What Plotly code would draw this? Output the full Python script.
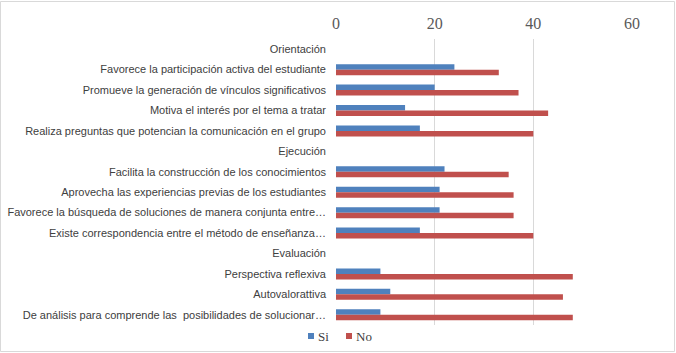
import plotly.graph_objects as go

categories = [
    "Orientación",
    "Favorece la participación activa del estudiante",
    "Promueve la generación de vínculos significativos",
    "Motiva el interés por el tema a tratar",
    "Realiza preguntas que potencian la comunicación en el grupo",
    "Ejecución",
    "Facilita la construcción de los conocimientos",
    "Aprovecha las experiencias previas de los estudiantes",
    "Favorece la búsqueda de soluciones de manera conjunta entre…",
    "Existe correspondencia entre el método de enseñanza…",
    "Evaluación",
    "Perspectiva reflexiva",
    "Autovalorattiva",
    "De análisis para comprende las  posibilidades de solucionar…",
]
si_values = [None, 24, 20, 14, 17, None, 22, 21, 21, 17, None, 9, 11, 9]
no_values = [None, 33, 37, 43, 40, None, 35, 36, 36, 40, None, 48, 46, 48]
x_ticks = [0, 20, 40, 60]
series = [("Si", si_values, "#4f81bd"), ("No", no_values, "#c0504d")]

W, H = 676, 353
ml, mr, mt, mb = 336, 44, 39, 28
pw, ph = W - ml - mr, H - mt - mb


def px(x):
    return (x - ml) / pw


def py(y):
    return (H - mb - y) / ph


fig = go.Figure()
for name, vals, col in series:
    fig.add_trace(go.Bar(name=name, y=categories, x=vals, orientation="h",
                         marker=dict(color=col, line=dict(width=0))))

shapes = [dict(type="rect", xref="paper", yref="paper",
               x0=px(0.5), x1=px(W - 1.5), y0=py(H - 1.5), y1=py(1.5),
               line=dict(color="#d9d9d9", width=1), layer="below")]
annotations = []
legend_x = [308, 346]
for (name, _, col), lx in zip(series, legend_x):
    shapes.append(dict(type="rect", xref="paper", yref="paper",
                       x0=px(lx), x1=px(lx + 6), y0=py(339), y1=py(333),
                       fillcolor=col, line=dict(width=0)))
    annotations.append(dict(text=name, xref="paper", yref="paper",
                            x=px(lx + 8), y=py(336), xanchor="left", yanchor="middle",
                            showarrow=False,
                            font=dict(family="Liberation Serif, DejaVu Serif, serif",
                                      size=13, color="#404040")))

fig.update_layout(
    width=W, height=H,
    margin=dict(l=ml, r=mr, t=mt, b=mb, autoexpand=False),
    paper_bgcolor="white", plot_bgcolor="white",
    barmode="group", bargap=0.46, bargroupgap=0,
    font=dict(family="Liberation Sans, Arial, sans-serif", size=11, color="#404040"),
    xaxis=dict(side="top", range=[0, 60], tickvals=x_ticks, showgrid=True,
               gridcolor="#d9d9d9", gridwidth=1, zeroline=False, showline=False,
               tickfont=dict(family="Liberation Serif, DejaVu Serif, serif", size=16, color="#595959"),
               ticklabelstandoff=6, fixedrange=True),
    yaxis=dict(autorange="reversed", showgrid=False, zeroline=False, showline=False,
               tickfont=dict(size=11, color="#404040"), ticklabelstandoff=9,
               ticks="", fixedrange=True),
    showlegend=False,
    shapes=shapes,
    annotations=annotations,
)

fig.write_html("out.html", config={"displayModeBar": False},
               post_script="document.body.style.margin='0';document.body.style.overflow='hidden';")
